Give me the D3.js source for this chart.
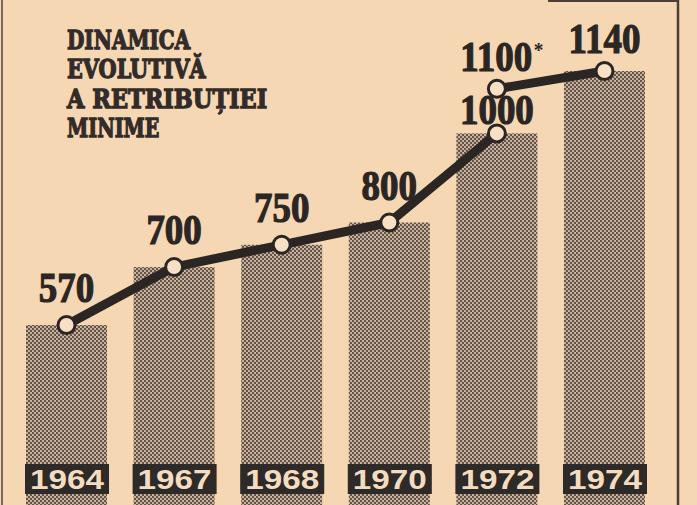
<!DOCTYPE html>
<html>
<head>
<meta charset="utf-8">
<script src="https://cdn.jsdelivr.net/npm/d3@7"></script>
<style>
body{margin:0;background:#f5d8b3;}
svg{display:block;}
</style>
</head>
<body>
<script>
var years = ["1964","1967","1968","1970","1972","1974"];
var wages = [570, 700, 750, 800, 1000, 1140];
// second line (after 1972 raise)
var raiseYears = ["1972","1974"];
var raiseValues = [1100, 1140];
var raiseLabels = ["1100*", "1140"];
var titleLines = ["DINAMICA", "EVOLUTIVĂ", "A RETRIBUȚIEI", "MINIME"];

var w = 697;
var h = 505;
var paper = "#f5d8b3";
var ink = "#2b2624";

var svg = d3.select("body")
	.append("svg")
	.attr("width", w)
	.attr("height", h);

//halftone look for the bars
var defs = svg.append("defs");
var pat = defs.append("pattern")
	.attr("id", "dots")
	.attr("width", 4)
	.attr("height", 4)
	.attr("patternUnits", "userSpaceOnUse");
pat.append("rect").attr("width", 4).attr("height", 4).attr("fill", "#cdb59c");
pat.append("circle").attr("cx", 1).attr("cy", 1).attr("r", 1.15).attr("fill", "#5e5048");
pat.append("circle").attr("cx", 3).attr("cy", 3).attr("r", 1.15).attr("fill", "#5e5048");

svg.append("rect").attr("width", w).attr("height", h).attr("fill", paper);

var x = d3.scaleBand()
	.domain(years)
	.range([26, 645])
	.paddingInner(0.247)
	.paddingOuter(0);

var y = d3.scaleLinear()
	.domain([0, 1140])
	.range([579, 71]);

// bars
svg.selectAll("rect.bar")
	.data(wages)
	.enter()
	.append("rect")
	.attr("class", "bar")
	.attr("x", function(d,i){return x(years[i])})
	.attr("y", function(d){return y(d)})
	.attr("width", x.bandwidth())
	.attr("height", function(d){return y(0) - y(d)})
	.attr("fill", "url(#dots)");

// year boxes
var yearG = svg.selectAll("g.year")
	.data(years)
	.enter()
	.append("g")
	.attr("class", "year");
yearG.append("rect")
	.attr("x", function(d){return x(d) - 1})
	.attr("y", 464)
	.attr("width", x.bandwidth() + 3)
	.attr("height", 30)
	.attr("fill", "#2e2a27");
yearG.append("text")
	.attr("x", function(d){return x(d) + x.bandwidth()/2 + 0.5})
	.attr("y", 489)
	.attr("text-anchor", "middle")
	.attr("font-family", "Liberation Sans, Arial, sans-serif")
	.attr("font-weight", "bold")
	.attr("font-size", 27)
	.attr("textLength", 74)
	.attr("lengthAdjust", "spacingAndGlyphs")
	.attr("fill", "#f3dcc0")
	.text(function(d){return d});

// lines
var cx = function(yr){return x(yr) + x.bandwidth()/2};
var line = d3.line()
	.x(function(d){return cx(d[0])})
	.y(function(d){return y(d[1])});

var firstPts = years.slice(0, 5).map(function(yr,i){return [yr, wages[i]]});
var secondPts = raiseYears.map(function(yr,i){return [yr, raiseValues[i]]});

[firstPts, secondPts].forEach(function(pts){
	svg.append("path")
		.attr("d", line(pts))
		.attr("fill", "none")
		.attr("stroke", ink)
		.attr("stroke-width", 9)
		.attr("stroke-linecap", "round")
		.attr("stroke-linejoin", "round");
});

var allPts = firstPts.concat(secondPts);
svg.selectAll("circle.pt")
	.data(allPts)
	.enter()
	.append("circle")
	.attr("class", "pt")
	.attr("cx", function(d){return cx(d[0])})
	.attr("cy", function(d){return y(d[1])})
	.attr("r", 8.5)
	.attr("fill", "#f7e0c4")
	.attr("stroke", ink)
	.attr("stroke-width", 3);

// value labels (tall condensed heavy digits, squeezed with a scale)
var labels = firstPts.map(function(d){return [d[0], d[1], String(d[1])]})
	.concat(secondPts.map(function(d,i){return [d[0], d[1], raiseLabels[i]]}));
labels.forEach(function(d){
	var off = d[1] == 1000 ? 9 : (d[1] > 1000 ? 18 : 23);
	var num = d[2].replace("*", "");
	var starred = d[2].indexOf("*") >= 0;
	var g = svg.append("g")
		.attr("transform", "translate(" + (cx(d[0]) + (starred ? 5 : 0)) + "," + (y(d[1]) - off) + ") scale(0.88,1)");
	var t = g.append("text")
		.attr("text-anchor", "middle")
		.attr("font-family", "Liberation Serif, serif")
		.attr("font-weight", "bold")
		.attr("font-size", 42)
		.attr("fill", ink);
	t.append("tspan")
		.attr("stroke", ink)
		.attr("stroke-width", 1.2)
		.text(num);
	if (starred){
		t.append("tspan")
			.attr("dx", 2)
			.attr("dy", -14)
			.attr("font-size", 22)
			.text("*");
	}
});

// title
svg.selectAll("text.title")
	.data(titleLines)
	.enter()
	.append("text")
	.attr("class", "title")
	.attr("x", 67)
	.attr("y", function(d,i){return 49 + i*29.3})
	.attr("font-family", "DejaVu Serif, serif")
	.attr("font-weight", "bold")
	.attr("font-size", 26)
	.attr("textLength", function(d){return d.length*15.4})
	.attr("lengthAdjust", "spacingAndGlyphs")
	.attr("fill", "#332b29")
	.attr("stroke", "#332b29")
	.attr("stroke-width", 1.3)
	.text(function(d){return d});

// frame rules
svg.append("line").attr("x1", 2).attr("x2", 2).attr("y1", 0).attr("y2", h)
	.attr("stroke", "#7a6658").attr("stroke-width", 2);
svg.append("line").attr("x1", 678).attr("x2", 678).attr("y1", 0).attr("y2", h)
	.attr("stroke", "#4a3e38").attr("stroke-width", 2.5);
svg.append("line").attr("x1", 548).attr("x2", 679).attr("y1", 1).attr("y2", 1)
	.attr("stroke", "#4a3e38").attr("stroke-width", 2);
</script>
</body>
</html>
